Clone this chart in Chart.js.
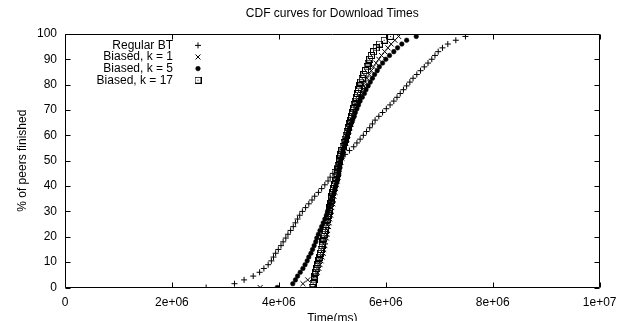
<!DOCTYPE html>
<html><head><meta charset="utf-8">
<script src="https://cdn.jsdelivr.net/npm/chart.js@4.4.1/dist/chart.umd.min.js"></script>
<style>html,body{margin:0;padding:0;background:#fff}#c{display:block}</style>
</head><body>
<canvas id="c" width="624" height="321"></canvas>
<script>
// % of peers finished (CDF level of each point)
const percentFinished = [0,1.5,3,4.5,6,7.5,9,10.5,12,13.5,15,16.5,18,19.5,21,22.5,24,25.5,27,28.5,30,31.5,33,34.5,36,37.5,39,40.5,42,43.5,45,46.5,48,49.5,51,52.5,54,55.5,57,58.5,60,61.5,63,64.5,66,67.5,69,70.5,72,73.5,75,76.5,78,79.5,81,82.5,84,85.5,87,88.5,90,91.5,93,94.5,96,97.5,99];
// Download times, in millions of ms
const regularBT = [2.64,3.17,3.35,3.52,3.64,3.72,3.80,3.86,3.90,3.94,3.99,4.04,4.08,4.13,4.17,4.22,4.27,4.31,4.35,4.39,4.44,4.50,4.56,4.62,4.67,4.74,4.80,4.86,4.92,4.96,5.01,5.05,5.09,5.13,5.18,5.24,5.32,5.40,5.46,5.52,5.58,5.64,5.70,5.75,5.80,5.87,5.94,6.01,6.08,6.15,6.21,6.27,6.33,6.39,6.45,6.51,6.58,6.65,6.72,6.79,6.86,6.92,6.98,7.06,7.16,7.31,7.49];
const biasedK1 = [3.65,4.45,4.54,4.68,4.72,4.75,4.77,4.79,4.81,4.83,4.84,4.86,4.87,4.89,4.90,4.91,4.93,4.94,4.95,4.97,4.98,4.99,5.01,5.02,5.03,5.05,5.06,5.08,5.09,5.11,5.12,5.13,5.15,5.16,5.18,5.19,5.21,5.23,5.25,5.27,5.29,5.31,5.33,5.35,5.37,5.39,5.41,5.43,5.45,5.48,5.50,5.53,5.56,5.59,5.62,5.65,5.69,5.73,5.77,5.82,5.87,5.92,5.98,6.04,6.10,6.17,6.24];
const biasedK5 = [3.97,4.26,4.31,4.35,4.40,4.45,4.49,4.53,4.56,4.60,4.63,4.66,4.69,4.71,4.74,4.77,4.80,4.83,4.86,4.89,4.91,4.94,4.96,4.98,5.00,5.03,5.05,5.07,5.09,5.10,5.12,5.13,5.14,5.15,5.17,5.19,5.20,5.22,5.24,5.26,5.28,5.30,5.32,5.35,5.38,5.41,5.43,5.46,5.49,5.52,5.56,5.60,5.63,5.67,5.71,5.75,5.79,5.84,5.88,5.94,6.00,6.07,6.15,6.22,6.30,6.39,6.57];
const biasedK17 = [4.62,4.64,4.66,4.67,4.69,4.71,4.73,4.75,4.76,4.78,4.79,4.81,4.82,4.84,4.85,4.87,4.88,4.90,4.91,4.92,4.94,4.95,4.97,4.98,4.99,5.01,5.02,5.04,5.06,5.07,5.09,5.10,5.11,5.13,5.14,5.16,5.18,5.20,5.22,5.24,5.26,5.28,5.30,5.32,5.34,5.36,5.38,5.40,5.41,5.43,5.45,5.47,5.49,5.51,5.53,5.56,5.59,5.62,5.65,5.67,5.70,5.73,5.77,5.82,5.88,5.97,6.09];
const seriesNames = ['Regular BT','Biased, k = 1','Biased, k = 5','Biased, k = 17'];
const xTickLabels = ['0','2e+06','4e+06','6e+06','8e+06','1e+07'];
const UNIT = 1e6;

function pts(times){ return times.map((t,i)=>({x:t*UNIT, y:percentFinished[i]})); }

// square-with-dot marker (gnuplot style)
const boxMark = document.createElement('canvas');
boxMark.width = 7; boxMark.height = 7;
(function(){
  const g = boxMark.getContext('2d');
  g.strokeStyle = '#000'; g.lineWidth = 1;
  g.strokeRect(0.5,0.5,6,6);
  g.fillStyle = '#000'; g.fillRect(3,3,1,1);
})();

const FONT = "'Liberation Sans', Arial, Helvetica, sans-serif";
Chart.defaults.font.family = FONT;
Chart.defaults.font.size = 12;
Chart.defaults.color = '#000';

const frame = {
  id:'frame',
  beforeDatasetsDraw(chart){
    const {ctx, chartArea:a, scales:{x,y}} = chart;
    const L = Math.round(a.left)+0.5, R = Math.round(a.right)-0.5, T = Math.round(a.top)+0.5, B = Math.round(a.bottom)-0.5;
    ctx.save();
    ctx.strokeStyle = '#000'; ctx.lineWidth = 1;
    ctx.beginPath();
    ctx.rect(L, T, R-L, B-T);
    const len = 5;
    x.ticks.forEach(t=>{
      const px = Math.round(x.getPixelForValue(t.value))+0.5;
      ctx.moveTo(px, B); ctx.lineTo(px, B-len);
      ctx.moveTo(px, T); ctx.lineTo(px, T+len);
    });
    y.ticks.forEach(t=>{
      const py = Math.round(y.getPixelForValue(t.value))+0.5;
      ctx.moveTo(L, py); ctx.lineTo(L+len, py);
      ctx.moveTo(R, py); ctx.lineTo(R-len, py);
    });
    ctx.stroke();
    ctx.restore();
  }
};

const key = {
  id:'key',
  afterDatasetsDraw(chart){
    const ctx = chart.ctx, a = chart.chartArea;
    ctx.save();
    ctx.font = "12px " + FONT;
    ctx.textAlign = 'right'; ctx.textBaseline = 'middle';
    const textRight = a.left + 108, markX = a.left + 133, y0 = a.top + 11.5, dy = 11.6;
    chart.data.datasets.forEach((ds,i)=>{
      const yy = y0 + i*dy;
      ctx.fillStyle = '#000';
      ctx.fillText(ds.label, textRight, yy);
      ctx.save();
      ctx.strokeStyle = ds.borderColor; ctx.fillStyle = ds.backgroundColor; ctx.lineWidth = ds.borderWidth;
      Chart.helpers.drawPoint(ctx, {pointStyle: ds.pointStyle, radius: ds.pointRadius, borderWidth: ds.borderWidth, rotation: 0}, markX, yy);
      ctx.restore();
    });
    ctx.restore();
  }
};

new Chart(document.getElementById('c'), {
  type:'scatter',
  data:{datasets:[
    {label:seriesNames[0], data:pts(regularBT), pointStyle:'cross', pointRadius:3, borderColor:'#000', backgroundColor:'#000', borderWidth:1, order:4},
    {label:seriesNames[1], data:pts(biasedK1), pointStyle:'crossRot', pointRadius:3.5, borderColor:'#000', backgroundColor:'#000', borderWidth:1, order:3},
    {label:seriesNames[2], data:pts(biasedK5), pointStyle:'circle', pointRadius:2.3, borderColor:'#000', backgroundColor:'#000', borderWidth:0.5, order:2},
    {label:seriesNames[3], data:pts(biasedK17), pointStyle:boxMark, pointRadius:3.5, borderColor:'#000', backgroundColor:'rgba(0,0,0,0)', borderWidth:1, order:1}
  ]},
  options:{
    responsive:false, animation:false, devicePixelRatio:1,
    layout:{padding:{left:0,right:19,top:0,bottom:0}},
    plugins:{
      legend:{display:false}, tooltip:{enabled:false},
      title:{display:true, text:'CDF curves for Download Times', fullSize:false, color:'#000',
             font:{size:12, weight:'normal'}, padding:{top:6, bottom:13.5}}
    },
    scales:{
      x:{type:'linear', min:0, max:1e7,
         afterFit(s){ s.height = 33.5; },
         ticks:{stepSize:2e6, padding:7.5, maxRotation:0, autoSkip:false, callback:(v,i)=>xTickLabels[i]},
         grid:{display:false, drawTicks:false}, border:{display:false},
         title:{display:true, text:'Time(ms)', padding:{top:0, bottom:-5}}},
      y:{min:0, max:100,
         afterFit(s){ s.width = 65; },
         ticks:{stepSize:10, padding:8},
         grid:{display:false, drawTicks:false}, border:{display:false},
         title:{display:true, text:'% of peers finished', padding:{top:15, bottom:0}}}
    }
  },
  plugins:[frame, key]
});
</script>
</body></html>
